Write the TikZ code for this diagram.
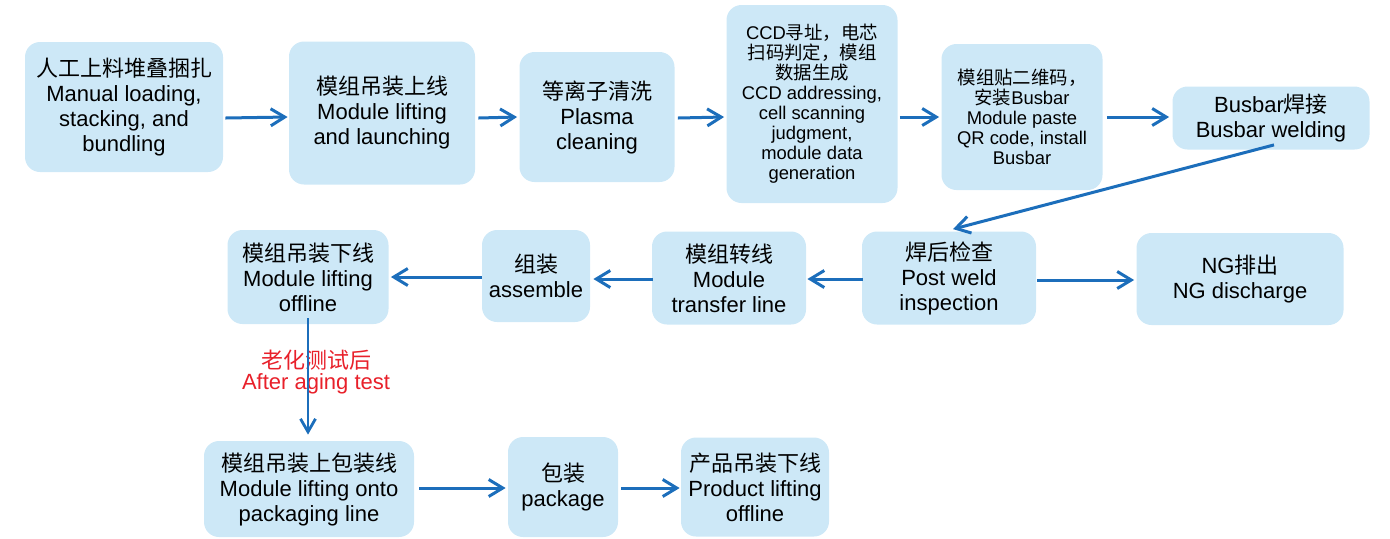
\documentclass[tikz,border=0pt]{standalone}
\usepackage{fontspec}
\setmainfont{Liberation Sans}
\newfontfamily\cjk{Noto Sans CJK SC}
\usetikzlibrary{arrows.meta,calc}
\definecolor{boxfill}{HTML}{CDE8F7}
\definecolor{arrblue}{HTML}{1C6EBB}
\definecolor{redtxt}{HTML}{E8202A}
\tikzset{
  box/.style={rectangle, rounded corners=7.5pt, fill=boxfill, align=center, inner sep=0pt,
    font=\fontsize{11}{12.5}\selectfont},
  smallbox/.style={box, font=\fontsize{9.2}{10}\selectfont},
  arr/.style={draw=arrblue, line width=1.5pt, -{Straight Barb[length=7pt,width=8.5pt]}},
  varr/.style={draw=arrblue, line width=1pt, -{Straight Barb[length=6.5pt,width=7.5pt,line width=1.4pt]}},
  redlabel/.style={text=redtxt, align=center, inner sep=0pt, font=\fontsize{11}{10.5}\selectfont},
}
\begin{document}
\begin{tikzpicture}[x=0.5pt,y=-0.5pt]
\useasboundingbox (0,0) rectangle (1390,538);
% row 1
\node[box, minimum width=99pt, minimum height=65pt] (A) at (124,107)
  {{\cjk 人工上料堆叠捆扎}\\Manual loading,\\stacking, and\\bundling};
\node[box, minimum width=93pt, minimum height=71.5pt] (B) at (382,113)
  {{\cjk 模组吊装上线}\\Module lifting\\and launching};
\node[box, minimum width=77.5pt, minimum height=65pt] (C) at (597,117)
  {{\cjk 等离子清洗}\\Plasma\\cleaning};
\node[smallbox, minimum width=85.5pt, minimum height=99pt] (D) at (812,104)
  {CCD{\cjk 寻址，电芯}\\{\cjk 扫码判定，模组}\\{\cjk 数据生成}\\CCD addressing,\\cell scanning\\judgment,\\module data\\generation};
\node[smallbox, minimum width=80.5pt, minimum height=73pt] (E) at (1022,117)
  {{\cjk 模组贴二维码，}\\{\cjk 安装}Busbar\\Module paste\\QR code, install\\Busbar};
\node[box, minimum width=98.5pt, minimum height=31.5pt] (F) at (1271,118)
  {Busbar{\cjk 焊接}\\Busbar welding};
% row 2
\node[box, minimum width=87pt, minimum height=46.5pt] (G) at (949,278)
  {{\cjk 焊后检查}\\Post weld\\inspection};
\node[box, minimum width=103.5pt, minimum height=46pt] (H) at (1240,279)
  {NG{\cjk 排出}\\NG discharge};
\node[box, minimum width=77pt, minimum height=46.5pt] (I) at (729,278)
  {{\cjk 模组转线}\\Module\\transfer line};
\node[box, minimum width=54pt, minimum height=46pt] (J) at (536,276)
  {{\cjk 组装}\\assemble};
\node[box, minimum width=80.5pt, minimum height=47pt] (K) at (308,277)
  {{\cjk 模组吊装下线}\\Module lifting\\offline};
% row 3
\node[box, minimum width=105pt, minimum height=48pt] (L) at (309,489)
  {{\cjk 模组吊装上包装线}\\Module lifting onto\\packaging line};
\node[box, minimum width=55pt, minimum height=50pt] (M) at (563,487)
  {{\cjk 包装}\\package};
\node[box, minimum width=74pt, minimum height=49.5pt] (N) at (755,487)
  {{\cjk 产品吊装下线}\\Product lifting\\offline};
% label
\node[redlabel] (lbl) at (316,372) {{\cjk 老化测试后}\\After aging test};
% connectors
\draw[arr] ($(A.east)+(2,11)$) -- ($(B.west)+(-1,4)$);
\draw[arr] ($(B.east)+(3,5)$) -- ($(C.west)+(-2,0)$);
\draw[arr] ($(C.east)+(3,1)$) -- ($(D.west)+(-2,13)$);
\draw[arr] ($(D.east)+(2,13)$) -- ($(E.west)+(-2,0)$);
\draw[arr] ($(E.east)+(4,0)$) -- ($(F.west)+(-3,-1)$);
\draw[arr] ($(F.south)+(3,-5)$) -- ($(G.north)+(4,-2)$);
\draw[arr] ($(G.east)+(1,2)$) -- ($(H.west)+(-2,1)$);
\draw[arr] ($(G.west)+(1,1)$) -- ($(I.east)+(1,1)$);
\draw[arr] ($(I.west)+(1,1)$) -- ($(J.east)+(3,3)$);
\draw[arr] ($(J.west)+(0,1)$) -- ($(K.east)+(2,0)$);
\draw[varr] ($(K.south)+(0,-6)$) -- ($(L.north)+(-1,-6)$);
\draw[arr] ($(L.east)+(5,-1)$) -- ($(M.west)+(-2,1)$);
\draw[arr] ($(M.east)+(3,1)$) -- ($(N.west)+(-1,1)$);
\end{tikzpicture}
\end{document}
